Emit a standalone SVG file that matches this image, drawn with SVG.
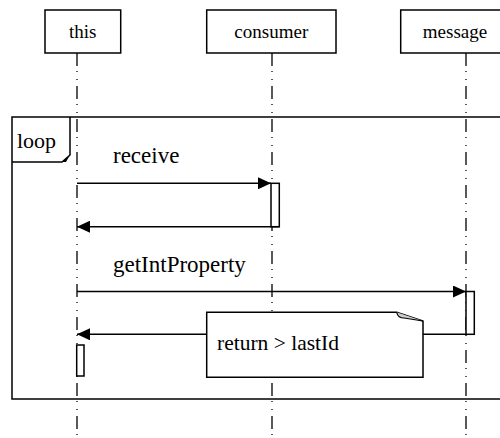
<svg xmlns="http://www.w3.org/2000/svg" width="500" height="438" viewBox="0 0 500 438">
<style>
.box{fill:#fff;stroke:#000;stroke-width:1.5}
.life{stroke:#000;stroke-width:1.3;stroke-dasharray:13 5 1 7 1 6;fill:none}
.line{stroke:#000;stroke-width:1.5;fill:none}
.act{fill:#fff;stroke:#000;stroke-width:1.5}
</style>
<defs>
<marker id="ah" viewBox="0 0 13 12" refX="13" refY="6" markerWidth="13" markerHeight="12" markerUnits="userSpaceOnUse" orient="auto">
<path d="M0,0 L13,6 L0,12 Z" fill="#000"/>
</marker>
</defs>
<rect width="500" height="438" fill="#fff"/>
<g id="loop">
<rect x="12" y="117" width="500" height="282" class="line"/>
<path d="M12,162 H62 L70,155 V117" class="line"/>
<path d="M62,162 L70,155 L66,162 Z" fill="#000"/>
<text x="17" y="148" font-family="'Liberation Serif'" font-size="22">loop</text>
</g>
<g id="lifelines">
<line x1="77" y1="53" x2="77" y2="438" class="life"/>
<line x1="272" y1="53" x2="272" y2="438" class="life"/>
<line x1="466" y1="53" x2="466" y2="438" class="life"/>
</g>
<g id="this">
<rect x="45" y="10" width="75.7" height="43" class="box"/>
<text x="82.8" y="38" text-anchor="middle" font-family="'Liberation Serif'" font-size="19">this</text>
</g>
<g id="consumer">
<rect x="206.7" y="10" width="129.3" height="43" class="box"/>
<text x="271.3" y="38" text-anchor="middle" font-family="'Liberation Serif'" font-size="19">consumer</text>
</g>
<g id="message">
<rect x="400.7" y="10" width="110" height="43" class="box"/>
<text x="455" y="38" text-anchor="middle" font-family="'Liberation Serif'" font-size="19">message</text>
</g>
<g id="connectors">
<text x="113" y="162.7" font-family="'Liberation Serif'" font-size="23">receive</text>
<line x1="77" y1="183.3" x2="271" y2="183.3" class="line" marker-end="url(#ah)"/>
<line x1="279.3" y1="226.7" x2="77" y2="226.7" class="line" marker-end="url(#ah)"/>
<text x="113" y="271.5" font-family="'Liberation Serif'" font-size="23">getIntProperty</text>
<line x1="77" y1="291.5" x2="466" y2="291.5" class="line" marker-end="url(#ah)"/>
<line x1="474.3" y1="334.3" x2="77" y2="334.3" class="line" marker-end="url(#ah)"/>
</g>
<g id="activations">
<rect x="271" y="183.3" width="8.3" height="43.4" class="act"/>
<rect x="466" y="291.5" width="8.3" height="42.8" class="act"/>
<rect x="76.7" y="345" width="7.3" height="31" class="act"/>
</g>
<g id="note">
<path d="M206.7,312.3 H396.7 L423,321 V377.3 H206.7 Z" class="box"/>
<path d="M396.7,312.3 Q398,318 404,318 L423,321" fill="#ccc" stroke="#000" stroke-width="1.2"/>
<text x="217" y="350" font-family="'Liberation Serif'" font-size="21.5">return &gt; lastId</text>
</g>
</svg>
